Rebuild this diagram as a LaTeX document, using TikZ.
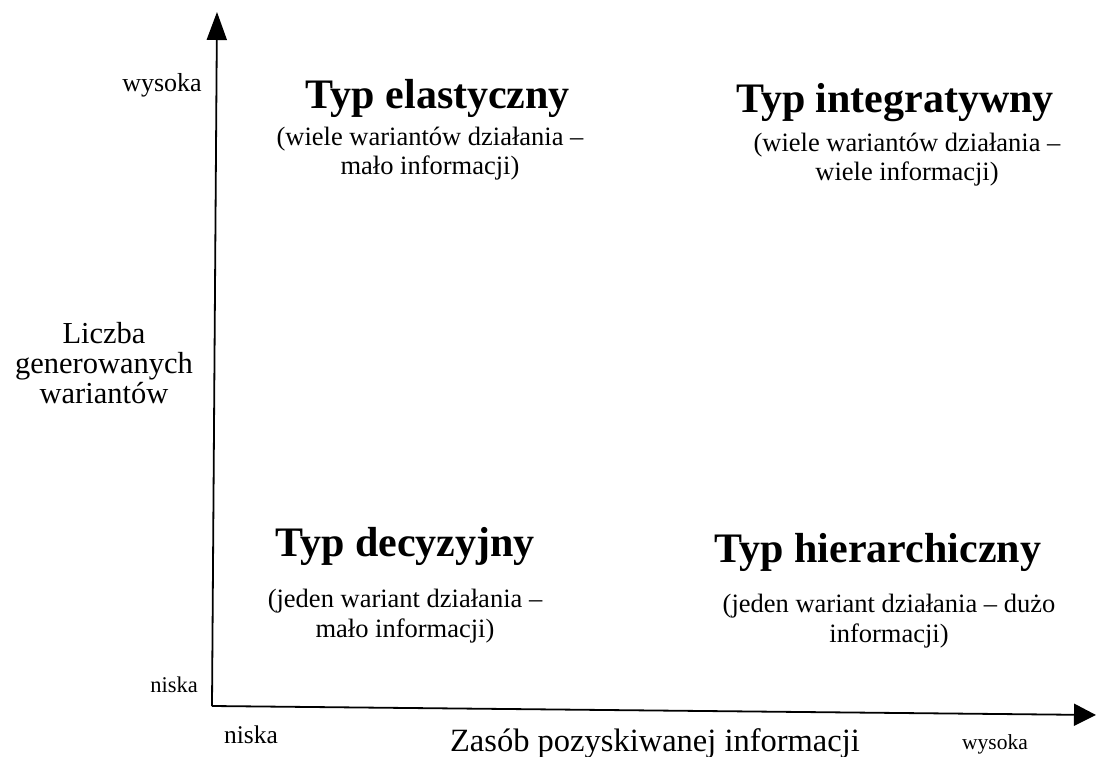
\documentclass[tikz,border=0pt]{standalone}
\usepackage{fontspec}
\setmainfont{Liberation Serif}
\usetikzlibrary{arrows.meta}
\begin{document}
\begin{tikzpicture}[x=1pt,y=-1pt,
  axis/.style={line width=1.8pt,line cap=butt},
  heading/.style={anchor=base,inner sep=0pt,font=\fontsize{42}{48}\selectfont\bfseries},
  note/.style={anchor=base,inner sep=0pt,align=center,font=\fontsize{26.5}{29.5}\selectfont},
  axlabel/.style={anchor=base,inner sep=0pt,align=center}]
\useasboundingbox (0,0) rectangle (1096,757);

% axes
\coordinate (origin) at (212,706);
\coordinate (ytip) at (217,12);
\coordinate (xtip) at (1096,715);
\draw[axis,-{Triangle[length=28pt,width=20pt]}] (origin) -- (ytip);
\draw[axis,-{Triangle[length=22pt,width=22pt]}] (origin) -- (xtip);

% axis labels (multi-line nodes are placed by the baseline of their last line)
\node[axlabel,font=\fontsize{26}{30}\selectfont] (yhigh) at (162,92) {wysoka};
\node[axlabel,font=\fontsize{22.5}{26}\selectfont,anchor=base east] (ylow) at (198,692) {niska};
\node[axlabel,font=\fontsize{30.5}{30}\selectfont] (ytitle) at (104,403) {Liczba\\generowanych\\wariantów};
\node[axlabel,font=\fontsize{25.5}{30}\selectfont] (xlow) at (251,743) {niska};
\node[axlabel,font=\fontsize{32.5}{36}\selectfont] (xtitle) at (655,751) {Zasób pozyskiwanej informacji};
\node[axlabel,font=\fontsize{21.5}{26}\selectfont] (xhigh) at (995,749) {wysoka};

% quadrants
\node[heading] (elastic) at (438,109) {Typ elastyczny};
\node[note] (elasticnote) at (430,175) {(wiele wariantów działania –\\mało informacji)};

\node[heading] (integr) at (895,113) {Typ integratywny};
\node[note] (integrnote) at (907,181) {(wiele wariantów działania –\\wiele informacji)};

\node[heading] (decis) at (405,556) {Typ decyzyjny};
\node[note] (decisnote) at (405,637) {(jeden wariant działania –\\mało informacji)};

\node[heading] (hier) at (878,562) {Typ hierarchiczny};
\node[note] (hiernote) at (889,642) {(jeden wariant działania – dużo\\informacji)};
\end{tikzpicture}
\end{document}
